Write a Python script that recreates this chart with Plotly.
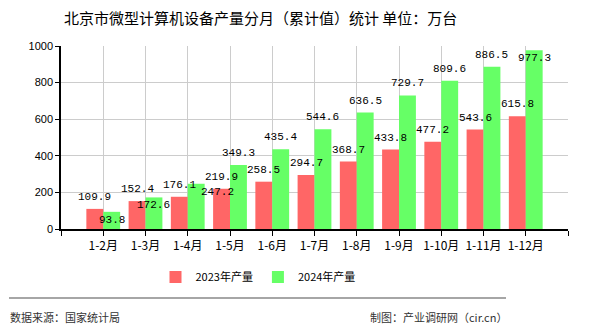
import plotly.graph_objects as go

categories = ["1-2月", "1-3月", "1-4月", "1-5月", "1-6月", "1-7月", "1-8月", "1-9月", "1-10月", "1-11月", "1-12月"]
values_2023 = [109.9, 152.4, 176.1, 219.9, 258.5, 294.7, 368.7, 433.8, 477.2, 543.6, 615.8]
values_2024 = [93.8, 172.6, 247.2, 349.3, 435.4, 544.6, 636.5, 729.7, 809.6, 886.5, 977.3]
label_above_2024 = [False, False, False, True, True, True, True, True, True, True, False]
label_dx_2024 = [0, 0, 21, 0, 0, 0, 0, 0, 0, 0, 0]
y_ticks = [0, 200, 400, 600, 800, 1000]

L, R, T, B = 61, 22, 46, 101
W, H = 590, 330
pw, ph = W - L - R, H - T - B

def px(x):
    return (x - L) / pw

def py(y):
    return (H - B - y) / ph

xs = list(range(len(categories)))

fig = go.Figure()
fig.add_trace(go.Bar(x=xs, y=values_2023, name="2023年产量", marker=dict(color="#ff6666", line=dict(width=0))))
fig.add_trace(go.Bar(x=xs, y=values_2024, name="2024年产量", marker=dict(color="#66ff66", line=dict(width=0))))

lab_font = dict(family="Liberation Mono, Noto Sans CJK SC", size=11, color="#000")
ann = []
for i, v in enumerate(values_2023):
    ann.append(dict(x=i - 0.2, y=v, xref="x", yref="y", text=f"{v:.1f}", showarrow=False,
                    yshift=12, font=lab_font))
for i, v in enumerate(values_2024):
    ann.append(dict(x=i + 0.2, y=v, xref="x", yref="y", text=f"{v:.1f}", showarrow=False,
                    yshift=12 if label_above_2024[i] else -8, xshift=label_dx_2024[i], font=lab_font))

foot_font = dict(family="Noto Sans CJK SC", size=11, color="#333")
ann.append(dict(x=px(8), y=py(317), xref="paper", yref="paper", text="数据来源：国家统计局",
                showarrow=False, xanchor="left", yanchor="middle", font=foot_font))
ann.append(dict(x=px(509), y=py(317), xref="paper", yref="paper", text="制图：产业调研网（cir.cn）",
                showarrow=False, xanchor="right", yanchor="middle", font=foot_font))
ann.append(dict(x=px(260), y=py(17), xref="paper", yref="paper",
                text="北京市微型计算机设备产量分月（累计值）统计 单位：万台",
                showarrow=False, xanchor="center", yanchor="middle",
                font=dict(family="Noto Sans CJK SC", size=15, color="#000")))

fig.update_layout(
    width=W, height=H,
    margin=dict(l=L, r=R, t=T, b=B),
    paper_bgcolor="white", plot_bgcolor="white",
    barmode="group", bargap=0.2, bargroupgap=0,
    annotations=ann,
    showlegend=True,
    legend=dict(orientation="h", x=px(258), xanchor="center", y=py(277), yanchor="middle",
                font=dict(family="Noto Sans CJK SC", size=11, color="#000"),
                itemwidth=30, tracegroupgap=0),
    shapes=[dict(type="line", xref="paper", yref="paper", x0=px(9), x1=px(506), y0=py(298), y1=py(298),
                 line=dict(color="#888", width=1.5))],
    font=dict(family="Noto Sans CJK SC"),
)
fig.update_xaxes(
    range=[-1, 11], tickmode="array", tickvals=list(range(-1, 12)),
    ticktext=[""] + categories + [""],
    showgrid=True, gridcolor="#cccccc", gridwidth=1,
    showline=True, linecolor="#000", linewidth=1.5,
    ticks="outside", ticklen=5, tickcolor="#000",
    tickfont=dict(family="Noto Sans CJK SC", size=12, color="#000"),
    zeroline=False, fixedrange=True,
)
fig.update_yaxes(
    range=[0, 1000], tickmode="array", tickvals=y_ticks, ticktext=[str(t) for t in y_ticks],
    showgrid=True, gridcolor="#cccccc", gridwidth=1,
    showline=True, linecolor="#000", linewidth=1.5,
    ticks="outside", ticklen=4, tickcolor="#000",
    tickfont=dict(family="Liberation Sans, Noto Sans CJK SC", size=11, color="#000"),
    zeroline=False, fixedrange=True,
)
fig.write_html("out.html", config={"displayModeBar": False})
